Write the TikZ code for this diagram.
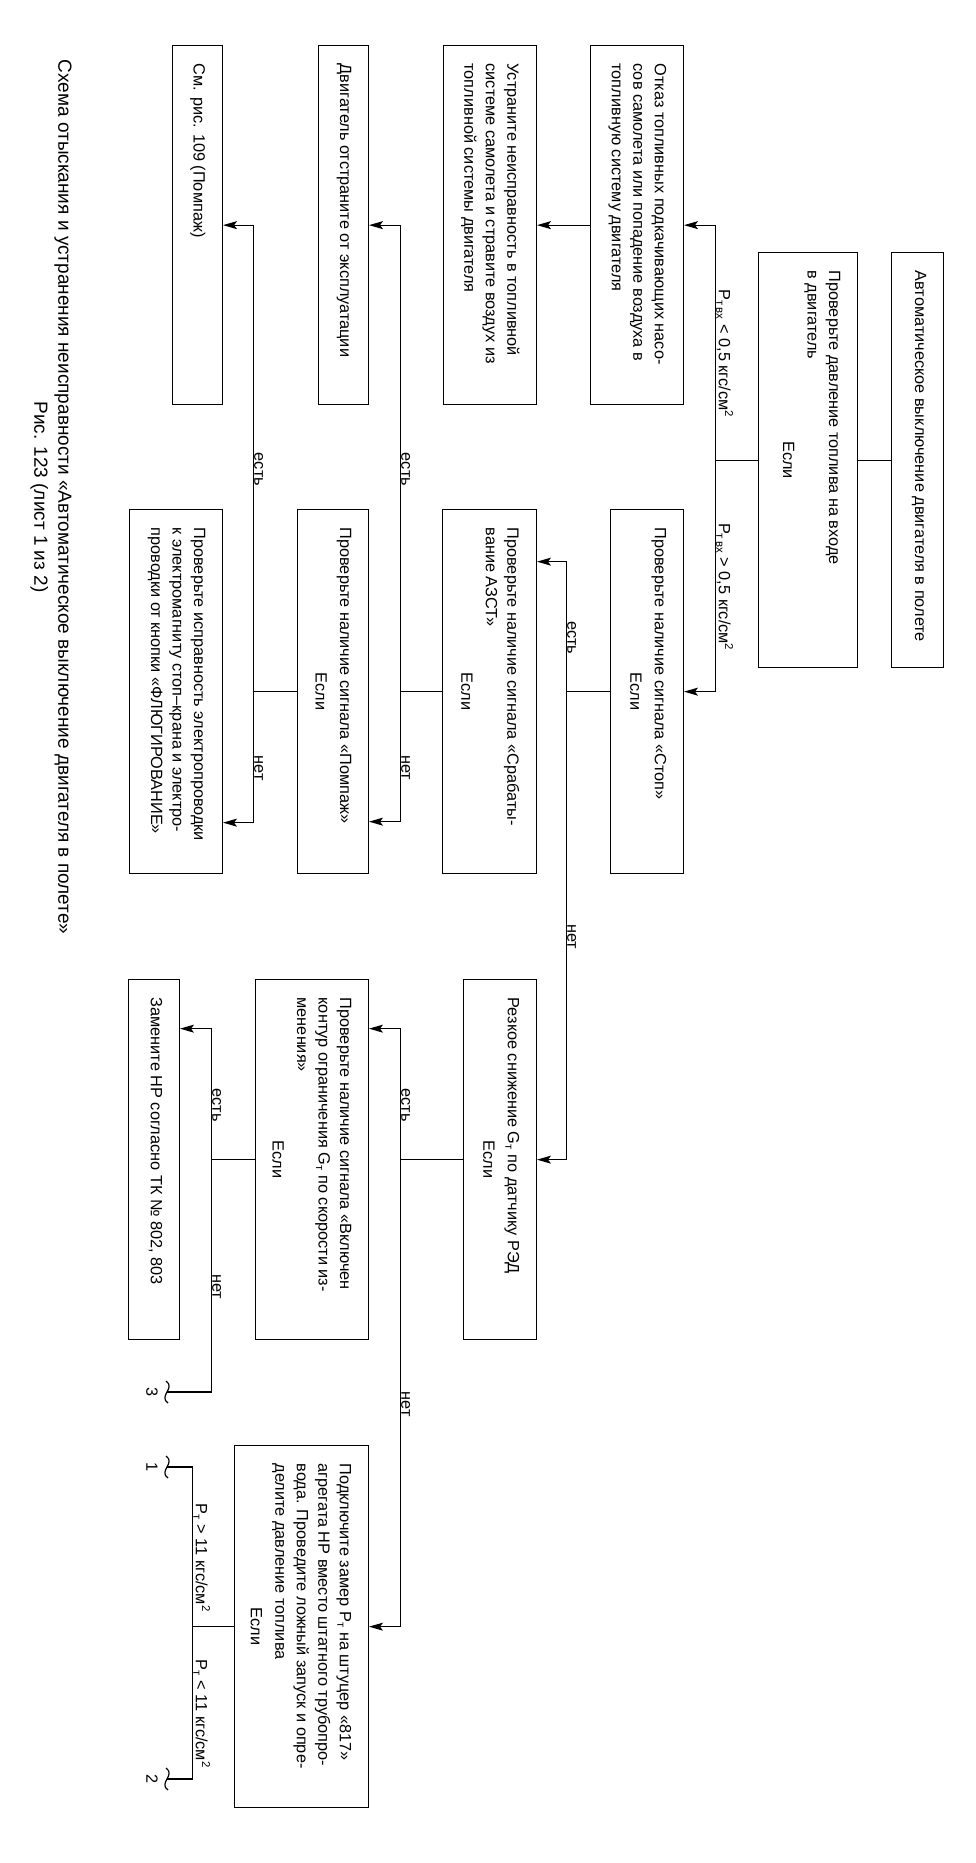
\documentclass[tikz,border=0pt]{standalone}
\usepackage{fontspec}
\setmainfont{Liberation Sans}
\usetikzlibrary{arrows.meta}
\newcommand{\boxtxt}[3]{\parbox[t][\dimexpr#2pt-34pt\relax][t]{\dimexpr#1pt-36pt\relax}{\raggedright #3}}
\newcommand{\esli}{\par\vspace{3pt}{\centering Если\par}}
\newcommand{\Ptvx}{P\textsubscript{т\,вх}}
\newcommand{\kgs}{кгс/см\textsuperscript{2}}
\begin{document}
\begin{tikzpicture}[x=1pt, y=-1pt,
	blok/.style={draw, line width=1.3pt, rotate=-90, anchor=north west, inner xsep=18pt, inner ysep=17pt, font=\fontsize{16.3}{21.5}\selectfont},
	lbl/.style={rotate=-90, anchor=south, inner sep=0pt, xshift=11pt, font=\fontsize{16.3}{20}\selectfont},
	lin/.style={line width=1.2pt},
	arr/.style={lin, -{Stealth[length=14pt,width=8pt,inset=3pt]}}]
	\useasboundingbox (0,0) rectangle (975,1863);
	% boxes
	\node[blok] (avto) at (944,252) {\boxtxt{415}{52}{Автоматическое выключение двигателя в полете}};
	\node[blok] (davl) at (858,252) {\boxtxt{415}{99}{Проверьте давление топлива на входе\\в двигатель\esli}};
	\node[blok] (otkaz) at (684,45) {\boxtxt{359}{93}{Отказ топливных подкачивающих насо-\\сов самолета или попадение воздуха в\\топливную систему двигателя}};
	\node[blok] (stop) at (684,509) {\boxtxt{364}{73}{Проверьте наличие сигнала «Стоп»\esli}};
	\node[blok] (ustr) at (537,45) {\boxtxt{359}{93}{Устраните неисправность в топливной\\системе самолета и стравите воздух из\\топливной системы двигателя}};
	\node[blok] (azst) at (537,509) {\boxtxt{364}{94}{Проверьте наличие сигнала «Срабаты-\\вание АЗСТ»\esli}};
	\node[blok] (red) at (537,979) {\boxtxt{360}{73}{Резкое снижение G\textsubscript{т} по датчику РЭД\esli}};
	\node[blok] (otstr) at (369,45) {\boxtxt{359}{50}{Двигатель отстраните от эксплуатации}};
	\node[blok] (ris) at (223,45) {\boxtxt{359}{50}{См. рис. 109 (Помпаж)}};
	\node[blok] (pompazh) at (369,509) {\boxtxt{364}{71}{Проверьте наличие сигнала «Помпаж»\esli}};
	\node[blok] (provod) at (223,509) {\boxtxt{364}{93}{Проверьте исправность электропроводки\\к электромагниту стоп–крана и электро-\\проводки от кнопки «ФЛЮГИРОВАНИЕ»}};
	\node[blok] (kontur) at (369,979) {\boxtxt{360}{113}{Проверьте наличие сигнала «Включен\\контур ограничения G\textsubscript{т} по скорости из-\\менения»\esli}};
	\node[blok] (nr) at (180,979) {\boxtxt{360}{51}{Замените НР согласно ТК № 802, 803}};
	\node[blok] (zamer) at (369,1445) {\boxtxt{362}{134}{Подключите замер P\textsubscript{т} на штуцер «817»\\агрегата НР вместо штатного трубопро-\\вода. Проведите ложный запуск и опре-\\делите давление топлива\esli}};
	% title
	\node[rotate=-90, align=center, inner sep=0pt, font=\fontsize{19}{24}\selectfont] (title) at (51,497)
		{Схема отыскания и устранения неисправности «Автоматическое выключение двигателя в полете»\\Рис. 123 (лист 1 из 2)};
	% breaks
	\coordinate (br1) at (167,1467);
	\coordinate (br2) at (167,1779);
	\coordinate (br3) at (167,1392);
	\foreach \n in {1,2,3} {
		\draw[lin] ([shift={(-1,-11)}]br\n) .. controls ([shift={(9,-4)}]br\n) and ([shift={(-9,4)}]br\n) .. ([shift={(1,11)}]br\n);
		\node[rotate=-90, inner sep=0pt, font=\fontsize{16.3}{20}\selectfont] (num\n) at ([xshift=-15pt]br\n) {\n};
	}
	% connectors
	\draw[lin] (avto.south) -- (davl.north);
	\draw[lin] (davl.south) -- ++(-42,0) coordinate (bB);
	\draw[arr] (bB) |- node[lbl, pos=0.25] {\Ptvx{} < 0,5 \kgs} (otkaz.north);
	\draw[arr] (bB) |- node[lbl, pos=0.25] {\Ptvx{} > 0,5 \kgs} (stop.north);
	\draw[arr] (otkaz.south) -- (ustr.north);
	\draw[lin] (stop.south) -- ++(-43,0) coordinate (bD);
	\draw[arr] (bD) |- node[lbl, pos=0.25] {есть} ([yshift=130pt]azst.north);
	\draw[arr] (bD) |- node[lbl, pos=0.25] {нет} (red.north);
	\draw[lin] (azst.south) -- ++(-41,0) coordinate (bF);
	\draw[arr] (bF) |- node[lbl, pos=0.25] {есть} (otstr.north);
	\draw[arr] (bF) |- node[lbl, pos=0.25] {нет} ([yshift=-130pt]pompazh.north);
	\draw[lin] (pompazh.south) -- ++(-43,0) coordinate (bJ);
	\draw[arr] (bJ) |- node[lbl, pos=0.25] {есть} (ris.north);
	\draw[arr] (bJ) |- node[lbl, pos=0.25] {нет} ([yshift=-131pt]provod.north);
	\draw[lin] (red.south) -- ++(-62,0) coordinate (bG);
	\draw[arr] (bG) |- node[lbl, pos=0.25] {есть} ([yshift=131pt]kontur.north);
	\draw[arr] (bG) |- node[lbl, pos=0.25] {нет} (zamer.north);
	\draw[lin] (kontur.south) -- ++(-43,0) coordinate (bL);
	\draw[arr] (bL) |- node[lbl, pos=0.25] {есть} ([yshift=131pt]nr.north);
	\draw[lin] (bL) |- node[lbl, pos=0.25] {нет} (br3);
	\draw[lin] (zamer.south) -- ++(-41,0) coordinate (bN);
	\draw[lin] (bN) |- node[lbl, pos=0.25] {P\textsubscript{т} > 11 \kgs} (br1);
	\draw[lin] (bN) |- node[lbl, pos=0.25] {P\textsubscript{т} < 11 \kgs} (br2);
\end{tikzpicture}
\end{document}
